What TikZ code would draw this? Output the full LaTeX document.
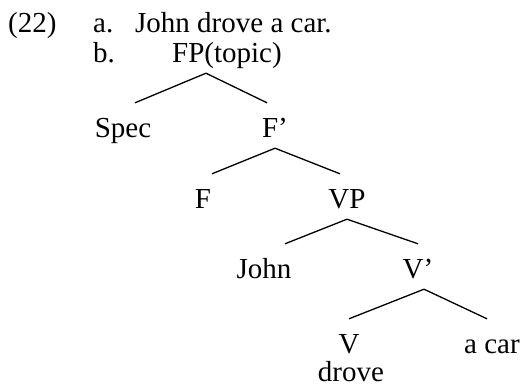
\documentclass[tikz,border=0pt]{standalone}
\usepackage{fontspec}
\setmainfont{Liberation Serif}
\usepackage{tikz}
\usetikzlibrary{positioning,calc}
\newcommand{\treefont}{\fontsize{29}{34}\selectfont}

\begin{document}
\begin{tikzpicture}
[
	x=1pt,y=-1pt,
	word/.style={font=\treefont,inner sep=0pt,anchor=base},
	cat/.style={word,text height=23pt,text depth=0pt,inner ysep=11pt},
	branch/.style={line width=1.3pt},
]
	\useasboundingbox (0,0) rectangle (522,388);

	\begin{scope}
		\node[word,anchor=base west] (num) at (8,32) {(22)};
		\node[word,anchor=base west] (a) at (93,32) {a.};
		\node[word,anchor=base west] (sent) at (135,32) {John drove a car.};
		\node[word,anchor=base west] (b) at (93,62) {b.};
	\end{scope}

	\begin{scope}
		\node[cat,anchor=base west] (FP) at (172,62) {FP(topic)};
		\node[cat] (Spec) at (123,137) {Spec};
		\node[cat] (F1) at (275,137) {F'};
		\node[cat] (F) at (203,208) {F};
		\node[cat] (VP) at (347,208) {VP};
		\node[cat] (John) at (264,278) {John};
		\node[cat] (V1) at (418,278) {V'};
		\node[cat] (V) at (349,353) {V};
		\node[cat] (car) at (492,353) {a car};
		\node[word] (drove) at (351,381) {drove};

		\draw[branch] ([xshift=-21pt]FP.south) -- ([xshift=12pt]Spec.north);
		\draw[branch] ([xshift=-21pt]FP.south) -- ([xshift=-8pt]F1.north);
		\draw[branch] (F1.south) -- ([xshift=9pt]F.north);
		\draw[branch] (F1.south) -- ([xshift=-7pt]VP.north);
		\draw[branch] (VP.south) -- ([xshift=21pt]John.north);
		\draw[branch] (VP.south) -- (V1.north);
		\draw[branch] ([xshift=6pt]V1.south) -- (V.north);
		\draw[branch] ([xshift=6pt]V1.south) -- ([xshift=-5pt]car.north);
	\end{scope}
\end{tikzpicture}
\end{document}
